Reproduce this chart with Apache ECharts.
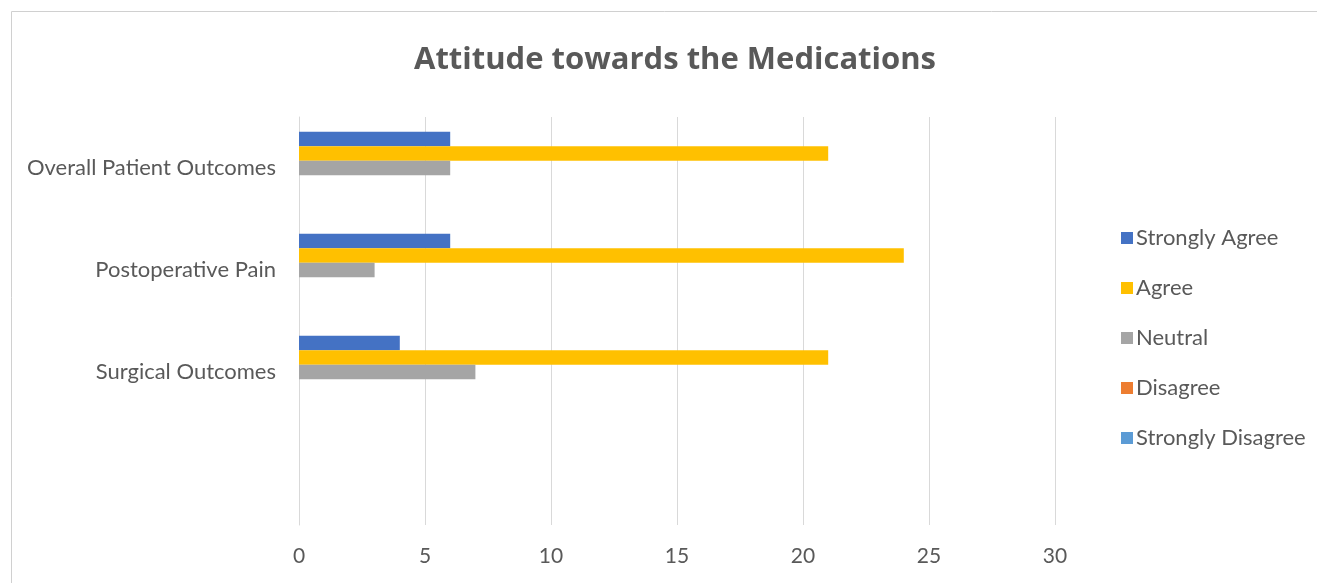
<!DOCTYPE html>
<html>
<head>
<meta charset="utf-8">
<script src="https://cdn.jsdelivr.net/npm/echarts@6/dist/echarts.min.js"></script>
<style>
html,body{margin:0;padding:0;background:#fff;}
#chart{width:1317px;height:583px;}
</style>
</head>
<body>
<div id="chart"></div>
<script>
var categories = ['Overall Patient Outcomes', 'Postoperative Pain', 'Surgical Outcomes', ''];
var seriesNames = ['Strongly Agree', 'Agree', 'Neutral', 'Disagree', 'Strongly Disagree'];
var stronglyAgree = [6, 6, 4, null];
var agree = [21, 24, 21, null];
var neutral = [6, 3, 7, null];
var disagree = [0, 0, 0, null];
var stronglyDisagree = [0, 0, 0, null];
var xTicks = [0, 5, 10, 15, 20, 25, 30];

var colors = ['#4472C4', '#FFC000', '#A5A5A5', '#ED7D31', '#5B9BD5'];
var values = [stronglyAgree, agree, neutral, disagree, stronglyDisagree];
var FONT = 'Lato';
var TXT = '#595959';

var chart = echarts.init(document.getElementById('chart'));
chart.setOption({
  animation: false,
  color: colors,
  title: {
    text: 'Attitude towards the Medications',
    left: 670, top: 40, textAlign: 'center',
    textStyle: {fontFamily: 'Open Sans', fontWeight: 'bold', fontSize: 31, color: TXT}
  },
  graphic: [{
    type: 'rect', left: 9, top: 9, silent: true,
    shape: {width: 1400, height: 700},
    style: {fill: 'none', stroke: '#d0d0d0', lineWidth: 1}
  }],
  legend: {
    orient: 'vertical', left: 1116, top: 222,
    itemWidth: 12, itemHeight: 12, itemGap: 28,
    icon: 'rect',
    textStyle: {fontFamily: FONT, fontSize: 22, color: TXT, lineHeight: 22, padding: [0,0,0,-2]},
    data: seriesNames
  },
  grid: {left: 299, right: 262, top: 117, bottom: 58, containLabel: false},
  xAxis: {
    type: 'value', min: xTicks[0], max: xTicks[xTicks.length - 1], interval: 5,
    axisLine: {show: false}, axisTick: {show: false},
    splitLine: {lineStyle: {color: '#d9d9d9', width: 1}},
    axisLabel: {fontFamily: FONT, fontSize: 21, color: TXT, margin: 21}
  },
  yAxis: {
    type: 'category', inverse: true, data: categories,
    axisTick: {show: false},
    axisLine: {lineStyle: {color: '#d9d9d9'}},
    axisLabel: {fontFamily: FONT, fontSize: 22, color: TXT, margin: 23, padding: [10, 0, 0, 0]}
  },
  series: seriesNames.map(function (n, i) {
    return {
      name: n, type: 'bar', data: values[i],
      barGap: '0%', barCategoryGap: '29%',
      itemStyle: {color: colors[i]}
    };
  })
});
</script>
</body>
</html>
